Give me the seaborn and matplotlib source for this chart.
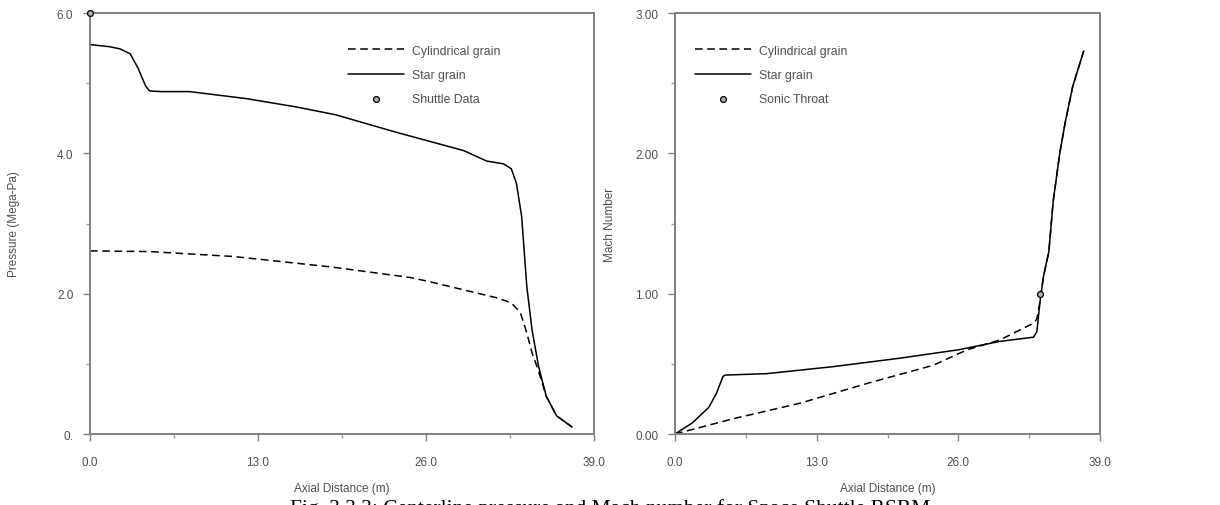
import matplotlib
matplotlib.use("Agg")
import seaborn as sns
from matplotlib import pyplot as plt
from matplotlib.ticker import MultipleLocator

# Pressure along the axis (Mega-Pa)
press_star_x = [0.0, 1.5, 2.3, 3.1, 3.7, 4.3, 4.6, 5.5, 7.7, 12.1, 16.0, 19.0, 23.7, 28.9,
                30.7, 32.0, 32.6, 33.0, 33.4, 33.8, 34.2, 34.7, 35.3, 36.1, 37.3]
press_star_y = [5.55, 5.52, 5.49, 5.42, 5.22, 4.96, 4.89, 4.88, 4.88, 4.78, 4.66, 4.55, 4.30, 4.04,
                3.89, 3.85, 3.78, 3.57, 3.10, 2.10, 1.49, 0.97, 0.54, 0.26, 0.10]
press_cyl_x = [0.0, 4.6, 11.1, 18.7, 24.8, 26.3, 31.5, 32.6, 33.3, 33.8, 34.2, 34.7, 35.3, 36.1, 37.3]
press_cyl_y = [2.61, 2.60, 2.53, 2.38, 2.23, 2.17, 1.94, 1.87, 1.73, 1.44, 1.16, 0.90, 0.54, 0.26, 0.10]
shuttle_x = [0.0]
shuttle_y = [6.0]

# Mach number along the axis
mach_star_x = [0.0, 1.6, 3.1, 3.8, 4.4, 4.6, 8.4, 14.5, 20.6, 26.0, 29.8, 32.9, 33.2, 33.5,
               33.8, 34.3, 34.7, 35.3, 35.8, 36.5, 37.5]
mach_star_y = [0.0, 0.08, 0.19, 0.29, 0.41, 0.42, 0.43, 0.48, 0.54, 0.60, 0.66, 0.69, 0.73, 0.95,
               1.12, 1.30, 1.66, 2.00, 2.22, 2.48, 2.73]
mach_cyl_x = [0.0, 5.4, 11.5, 17.6, 23.7, 26.8, 29.8, 32.9, 33.2, 33.5,
              33.8, 34.3, 34.7, 35.3, 35.8, 36.5, 37.5]
mach_cyl_y = [0.0, 0.11, 0.22, 0.36, 0.49, 0.60, 0.67, 0.79, 0.82, 0.95,
              1.12, 1.30, 1.66, 2.00, 2.22, 2.48, 2.73]
throat_x = [33.5]
throat_y = [1.0]

x_ticks = [0, 13, 26, 39]
x_labels = ["0.0", "13.0", "26.0", "39.0"]
press_ticks = [0, 2, 4, 6]
press_labels = ["0.", "2.0", "4.0", "6.0"]
mach_ticks = [0, 1, 2, 3]
mach_labels = ["0.00", "1.00", "2.00", "3.00"]

sns.set_style("ticks")
plt.rcParams["font.family"] = ["Liberation Sans", "DejaVu Sans"]

fig = plt.figure(figsize=(12.2, 5.06), dpi=100)
ax1 = fig.add_axes([0.0738, 0.1403, 0.4131, 0.832])
ax2 = fig.add_axes([0.5533, 0.1403, 0.3484, 0.832])

dash = (0, (5, 3))
txt_col = "#505050"

# left panel: pressure
sns.lineplot(x=press_cyl_x, y=press_cyl_y, ax=ax1, color="black", linestyle=dash,
             linewidth=1.1, label="Cylindrical grain", errorbar=None)
sns.lineplot(x=press_star_x, y=press_star_y, ax=ax1, color="black", linewidth=1.1,
             label="Star grain", errorbar=None)
sns.scatterplot(x=shuttle_x, y=shuttle_y, ax=ax1, s=18, color="#b0b0b0", edgecolor="black",
                linewidth=0.9, label="Shuttle Data", clip_on=False, zorder=5)

# right panel: Mach number
sns.lineplot(x=mach_cyl_x, y=mach_cyl_y, ax=ax2, color="black", linestyle=dash,
             linewidth=1.1, label="Cylindrical grain", errorbar=None)
sns.lineplot(x=mach_star_x, y=mach_star_y, ax=ax2, color="black", linewidth=1.1,
             label="Star grain", errorbar=None)
sns.scatterplot(x=throat_x, y=throat_y, ax=ax2, s=18, color="#b0b0b0", edgecolor="black",
                linewidth=0.9, label="Sonic Throat", zorder=5)

for ax, yt, yl, ymax, ylabel in [(ax1, press_ticks, press_labels, 6, "Pressure (Mega-Pa)"),
                                 (ax2, mach_ticks, mach_labels, 3, "Mach Number")]:
    ax.set_xlim(0, 39)
    ax.set_ylim(0, ymax)
    ax.set_xticks(x_ticks, x_labels)
    ax.set_yticks(yt, yl)
    ax.xaxis.set_minor_locator(MultipleLocator(6.5))
    ax.yaxis.set_minor_locator(MultipleLocator(ymax / 6))
    ax.tick_params(which="major", length=5, width=1, color="#808080", labelsize=8.5,
                   labelcolor=txt_col)
    ax.tick_params(axis="x", which="major", pad=11)
    ax.tick_params(axis="y", which="major", pad=7)
    ax.tick_params(which="minor", length=3, width=1, color="#a0a0a0")
    for sp in ax.spines.values():
        sp.set_visible(True)
        sp.set_color("#808080")
        sp.set_linewidth(1.4)
    ax.set_xlabel("Axial Distance (m)", fontsize=8.5, color=txt_col)
    ax.set_ylabel(ylabel, fontsize=8.5, color=txt_col)

ax1.xaxis.set_label_coords(0.5, -0.115)
ax2.xaxis.set_label_coords(0.5, -0.115)
ax1.yaxis.set_label_coords(-0.138, 0.5)
ax2.yaxis.set_label_coords(-0.14, 0.5)

leg_kw = dict(frameon=False, fontsize=8.8, handlelength=4.6, handletextpad=0.6,
              labelspacing=1.0, borderpad=0, borderaxespad=0, loc="upper left")
for text in ax1.legend(bbox_to_anchor=(0.512, 0.925), **leg_kw).get_texts():
    text.set_color(txt_col)
for text in ax2.legend(bbox_to_anchor=(0.047, 0.925), **leg_kw).get_texts():
    text.set_color(txt_col)

# figure caption, cut by the bottom edge as in the scanned page
fig.text(0.5, 0.013, "Fig. 3.3.3: Centerline pressure and Mach number for Space Shuttle RSRM",
         ha="center", va="top", fontsize=15.5, family=["Liberation Serif", "DejaVu Serif"],
         color="black")

fig.savefig("out.png", dpi=100)
